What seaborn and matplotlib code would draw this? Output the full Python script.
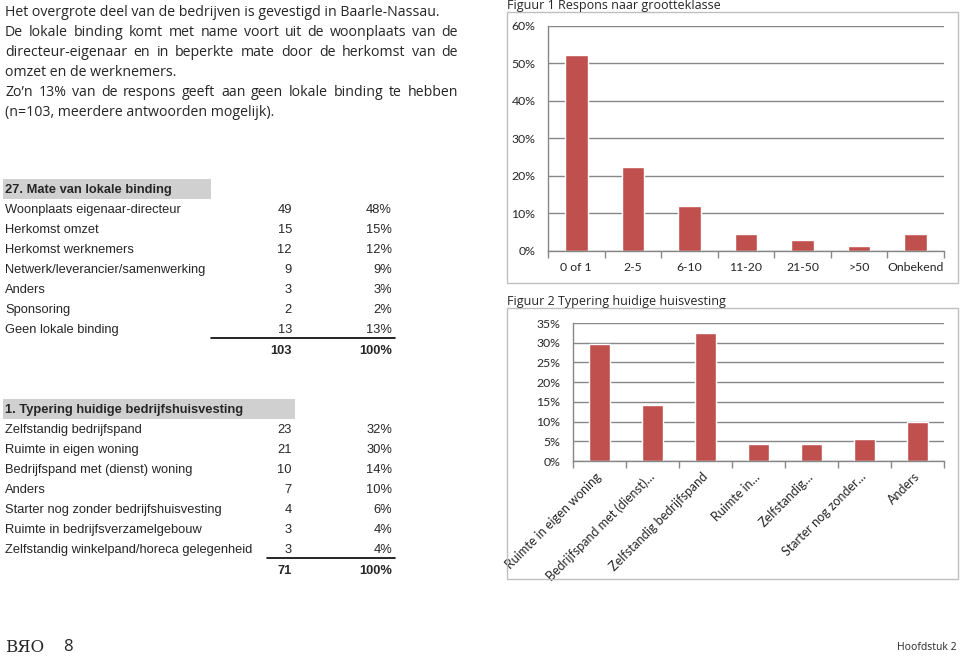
import matplotlib
matplotlib.use("Agg")
import matplotlib.pyplot as plt
import seaborn as sns
import pandas as pd
from matplotlib.patches import Rectangle
from matplotlib.lines import Line2D

W, H = 960, 657

intro_lines = [
    "Het overgrote deel van de bedrijven is gevestigd in Baarle-Nassau.",
    "De lokale binding komt met name voort uit de woonplaats van de",
    "directeur-eigenaar en in beperkte mate door de herkomst van de",
    "omzet en de werknemers.",
    "Zo\u2019n 13% van de respons geeft aan geen lokale binding te hebben",
    "(n=103, meerdere antwoorden mogelijk).",
]
intro_justified = [False, True, True, False, True, False]

binding_title = "27. Mate van lokale binding"
binding_labels = ["Woonplaats eigenaar-directeur", "Herkomst omzet", "Herkomst werknemers",
                  "Netwerk/leverancier/samenwerking", "Anders", "Sponsoring", "Geen lokale binding"]
binding_counts = [49, 15, 12, 9, 3, 2, 13]
binding_pcts = [48, 15, 12, 9, 3, 2, 13]
binding_total = [103, 100]

huis_title = "1. Typering huidige bedrijfshuisvesting"
huis_labels = ["Zelfstandig bedrijfspand", "Ruimte in eigen woning", "Bedrijfspand met (dienst) woning",
               "Anders", "Starter nog zonder bedrijfshuisvesting", "Ruimte in bedrijfsverzamelgebouw",
               "Zelfstandig winkelpand/horeca gelegenheid"]
huis_counts = [23, 21, 10, 7, 4, 3, 3]
huis_pcts = [32, 30, 14, 10, 6, 4, 4]
huis_total = [71, 100]

fig1_title = "Figuur 1 Respons naar grootteklasse"
size_classes = ["0 of 1", "2-5", "6-10", "11-20", "21-50", ">50", "Onbekend"]
size_share = [52.2, 22.4, 11.9, 4.4, 3.0, 1.4, 4.4]

fig2_title = "Figuur 2 Typering huidige huisvesting"
housing_labels = ["Ruimte in eigen woning", "Bedrijfspand met (dienst)\u2026", "Zelfstandig bedrijfspand",
                  "Ruimte in\u2026", "Zelfstandig\u2026", "Starter nog zonder\u2026", "Anders"]
housing_share = [29.6, 14.1, 32.4, 4.2, 4.2, 5.6, 9.9]

sns.set_style("white")
plt.rcParams["font.family"] = ["Lato", "DejaVu Sans"]

BAR = "#C0504D"
GRID = "#878787"
BODY_FONT = ["Open Sans", "DejaVu Sans"]
CHART_FONT = ["Lato", "DejaVu Sans"]
TABLE_FONT = ["Liberation Sans", "DejaVu Sans"]
BODY_SIZE = 10.2
TABLE_SIZE = 9.3

fig = plt.figure(figsize=(W / 100, H / 100), dpi=100)


def fx(x):
    return x / W


def fy(y):
    return 1 - y / H


def box(x0, y0, x1, y1, **kw):
    fig.add_artist(Rectangle((fx(x0), fy(y1)), (x1 - x0) / W, (y1 - y0) / H,
                             transform=fig.transFigure, **kw))


def hline(x0, x1, y, **kw):
    fig.add_artist(Line2D([fx(x0), fx(x1)], [fy(y), fy(y)], transform=fig.transFigure, **kw))


# intro paragraph, partly justified
renderer = fig.canvas.get_renderer()
for i, (line, just) in enumerate(zip(intro_lines, intro_justified)):
    y = 12 + i * 20
    if not just:
        fig.text(fx(5), fy(y), line, va="center", fontsize=BODY_SIZE, family=BODY_FONT)
        continue
    words = line.split(" ")
    arts = [fig.text(0, fy(y), w, va="center", fontsize=BODY_SIZE, family=BODY_FONT) for w in words]
    widths = [a.get_window_extent(renderer).width for a in arts]
    gap = (458 - 5 - sum(widths)) / (len(words) - 1)
    x = 5
    for a, w in zip(arts, widths):
        a.set_x(fx(x))
        x += w + gap


def table(top, title, title_w, labels, counts, pcts, total, line_x0):
    box(3, top - 11, title_w, top + 9, facecolor="#D0D0D0", edgecolor="none")
    fig.text(fx(5), fy(top), title, va="center", fontsize=TABLE_SIZE, fontweight="bold", family=TABLE_FONT)
    for i, (lab, c, p) in enumerate(zip(labels, counts, pcts)):
        y = top + 20 * (i + 1)
        fig.text(fx(5), fy(y), lab, va="center", fontsize=TABLE_SIZE, family=TABLE_FONT)
        fig.text(fx(292), fy(y), str(c), va="center", ha="right", fontsize=TABLE_SIZE, family=TABLE_FONT)
        fig.text(fx(392), fy(y), f"{p}%", va="center", ha="right", fontsize=TABLE_SIZE, family=TABLE_FONT)
    yl = top + 20 * len(labels) + 8
    hline(line_x0, 395, yl, color="black", lw=1.2)
    yt = top + 20 * len(labels) + 21
    fig.text(fx(292), fy(yt), str(total[0]), va="center", ha="right", fontsize=TABLE_SIZE,
             fontweight="bold", family=TABLE_FONT)
    fig.text(fx(392), fy(yt), f"{total[1]}%", va="center", ha="right", fontsize=TABLE_SIZE,
             fontweight="bold", family=TABLE_FONT)


table(190, binding_title, 211, binding_labels, binding_counts, binding_pcts, binding_total, 211)
table(410, huis_title, 295, huis_labels, huis_counts, huis_pcts, huis_total, 267)


def chart(frame, title_y, title, ax_box, cats, vals, ymax, step, rotate):
    box(*frame, facecolor="none", edgecolor="#BFBFBF", lw=1)
    fig.text(fx(507), fy(title_y), title, va="center", fontsize=9, family=BODY_FONT)
    l, t, r, b = ax_box
    ax = fig.add_axes([fx(l), fy(b), (r - l) / W, (b - t) / H])
    df = pd.DataFrame({"cat": cats, "val": vals})
    sns.barplot(data=df, x="cat", y="val", color=BAR, width=0.4, saturation=1, ax=ax)
    ax.set_ylim(0, ymax)
    ax.set_xlim(-0.5, len(cats) - 0.5)
    ticks = list(range(0, ymax + 1, step))
    ax.set_yticks(ticks)
    ax.set_yticklabels([f"{v}%" for v in ticks], family=CHART_FONT)
    ax.yaxis.grid(True, color=GRID, lw=1)
    ax.set_axisbelow(True)
    for s in ["top", "right"]:
        ax.spines[s].set_visible(False)
    for s in ["left", "bottom"]:
        ax.spines[s].set_color(GRID)
        ax.spines[s].set_linewidth(1)
    ax.set_xlabel("")
    ax.set_ylabel("")
    ax.set_xticks([i - 0.5 for i in range(len(cats) + 1)], minor=True)
    ax.tick_params(axis="x", which="minor", length=5, color=GRID, width=1, direction="out", bottom=True)
    ax.tick_params(axis="x", which="major", length=0, labelsize=8.8, pad=8)
    ax.tick_params(axis="y", length=0, labelsize=8.8, pad=9)
    if rotate:
        ax.set_xticks(range(len(cats)))
        ax.set_xticklabels(cats, rotation=45, ha="right", va="center", rotation_mode="anchor",
                           family=CHART_FONT)
        ax.tick_params(axis="x", which="major", pad=10, labelsize=9)
    return ax


chart((507, 12, 958, 283), 5, fig1_title, (548, 26, 944, 251), size_classes, size_share, 60, 10, False)
chart((507, 308, 958, 579), 302, fig2_title, (573, 323, 944, 461), housing_labels, housing_share, 35, 5, True)

# footer
fig.text(fx(5), fy(647), "B\u042fO", va="center", fontsize=12, family=["DejaVu Serif"])
fig.text(fx(63), fy(647), "8", va="center", fontsize=12, family=BODY_FONT)
fig.text(fx(957), fy(647), "Hoofdstuk 2", va="center", ha="right", fontsize=7.5, family=BODY_FONT)

fig.savefig("out.png", dpi=100)
